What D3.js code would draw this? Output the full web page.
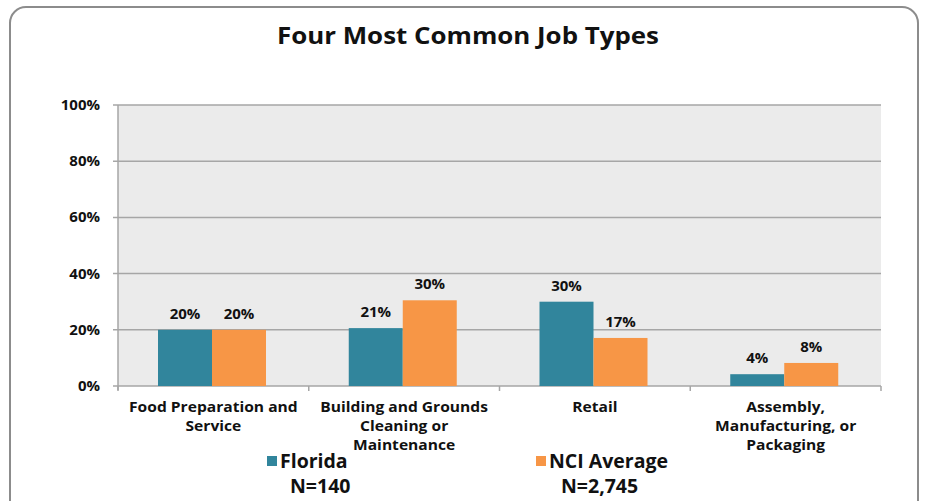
<!DOCTYPE html>
<html><head><meta charset="utf-8">
<script src="https://cdn.jsdelivr.net/npm/d3@7"></script>
<style>body{margin:0;background:#fff}svg{display:block;font-family:"Open Sans",sans-serif}</style>
</head><body>
<svg id="c" width="926" height="501"></svg>
<script>
const categories = [["Food Preparation and","Service"],["Building and Grounds","Cleaning or","Maintenance"],["Retail"],["Assembly,","Manufacturing, or","Packaging"]];
const seriesNames = ["Florida","NCI Average"];
const seriesN = ["N=140","N=2,745"];
const florida = [20, 20.6, 30, 4.2];
const nci = [20, 30.5, 17.1, 8.2];
const labelsFlorida = ["20%","21%","30%","4%"];
const labelsNci = ["20%","30%","17%","8%"];
const yTicks = [0,20,40,60,80,100];
const colors = ["#31859c","#f79646"];

const svg = d3.select("#c");
svg.append("rect").attr("x",10).attr("y",7).attr("width",908).attr("height",510).attr("rx",16)
  .attr("fill","#fff").attr("stroke","#8c8c8c").attr("stroke-width",2);

svg.append("text").attr("x",468).attr("y",44).attr("text-anchor","middle")
  .attr("font-size",23).attr("font-weight","bold").attr("fill","#111")
  .attr("textLength",382).attr("lengthAdjust","spacingAndGlyphs").text("Four Most Common Job Types");

const L=118,R=881,T=105,B=386;
const x = d3.scaleBand().domain(d3.range(categories.length)).range([L,R]);
const y = d3.scaleLinear().domain([0,100]).range([B,T]);

svg.append("rect").attr("x",L).attr("y",T).attr("width",R-L).attr("height",B-T).attr("fill","#ebebeb");
const g = svg.append("g");
g.selectAll("line.grid").data(yTicks).join("line").attr("class","grid")
  .attr("x1",L-5).attr("x2",R).attr("y1",d=>y(d)).attr("y2",d=>y(d)).attr("stroke","#a6a6a6").attr("stroke-width",1.5);
g.append("line").attr("x1",L).attr("x2",L).attr("y1",T).attr("y2",B+4).attr("stroke","#a6a6a6").attr("stroke-width",1.5);
g.selectAll("text.yt").data(yTicks).join("text").attr("class","yt")
  .attr("x",100).attr("y",d=>y(d)+5).attr("text-anchor","end").attr("font-size",15).attr("font-weight","bold").attr("fill","#111")
  .text(d=>d+"%");
const bounds = d3.range(categories.length+1).map(i=>i<categories.length?x(i):R);
g.selectAll("line.xt").data(bounds).join("line").attr("class","xt")
  .attr("x1",d=>d).attr("x2",d=>d).attr("y1",B).attr("y2",B+5).attr("stroke","#a6a6a6").attr("stroke-width",1.5);

const bw = 54, off = 40;
const series = [florida,nci], labs=[labelsFlorida,labelsNci];
series.forEach((s,si)=>{
  g.selectAll("rect.b"+si).data(s).join("rect").attr("class","b"+si)
    .attr("x",(d,i)=>x(i)+off+si*bw).attr("width",bw)
    .attr("y",d=>y(d)).attr("height",d=>B-y(d)).attr("fill",colors[si]);
  g.selectAll("text.l"+si).data(s).join("text").attr("class","l"+si)
    .attr("x",(d,i)=>x(i)+off+si*bw+bw/2).attr("y",d=>y(d)-11)
    .attr("text-anchor","middle").attr("font-size",15).attr("font-weight","bold").attr("fill","#111")
    .text((d,i)=>labs[si][i]);
});

categories.forEach((c,i)=>{
  const cg = svg.append("g").attr("transform",`translate(${x(i)+x.bandwidth()/2},0) scale(1.13,1)`);
  c.forEach((line,j)=>cg.append("text").attr("x",0).attr("y",412+j*19.2)
    .attr("text-anchor","middle").attr("font-size",13.8).attr("font-weight","bold").attr("fill","#111").text(line));
});

const legX=[267,536];
seriesNames.forEach((n,i)=>{
  svg.append("rect").attr("x",legX[i]).attr("y",456).attr("width",10).attr("height",10).attr("fill",colors[i]);
  svg.append("text").attr("x",legX[i]+13).attr("y",468).attr("font-size",19.5).attr("font-weight","bold").attr("fill","#111").text(n);
  svg.append("text").attr("x",legX[i]+13+ (i===0?10:12)).attr("y",493).attr("font-size",19.5).attr("font-weight","bold").attr("fill","#111").text(seriesN[i]);
});
</script>
</body></html>
